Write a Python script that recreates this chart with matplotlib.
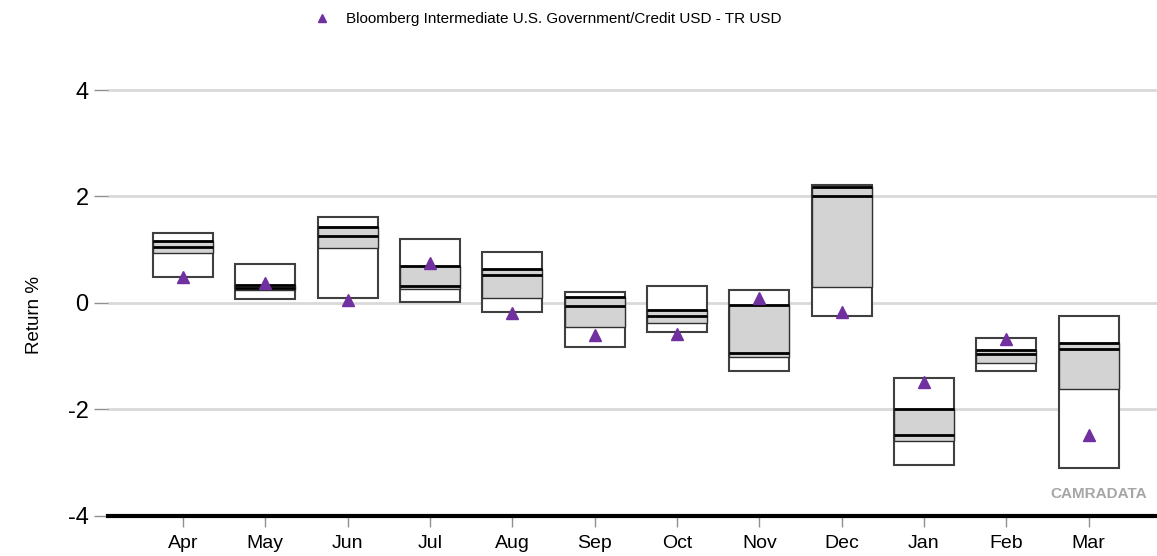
import matplotlib.pyplot as plt
from matplotlib.lines import Line2D
import numpy as np

plt.rcParams['font.family'] = ['Liberation Sans', 'DejaVu Sans']

months = ['Apr', 'May', 'Jun', 'Jul', 'Aug', 'Sep', 'Oct', 'Nov', 'Dec', 'Jan', 'Feb', 'Mar']
p95 = [1.32, 0.74, 1.62, 1.20, 0.96, 0.21, 0.32, 0.24, 2.22, -1.40, -0.65, -0.24]
q3 = [1.17, 0.33, 1.43, 0.70, 0.64, 0.11, -0.14, -0.04, 2.18, -2.00, -0.89, -0.745]
med = [1.05, 0.29, 1.25, 0.325, 0.53, -0.06, -0.25, -0.94, 2.00, -2.47, -0.95, -0.87]
q1 = [0.94, 0.24, 1.03, 0.26, 0.10, -0.46, -0.38, -1.01, 0.30, -2.59, -1.12, -1.61]
p5 = [0.48, 0.08, 0.10, 0.02, -0.16, -0.82, -0.54, -1.27, -0.24, -3.04, -1.28, -3.09]
index_ret = [0.48, 0.38, 0.06, 0.75, -0.19, -0.61, -0.59, 0.09, -0.16, -1.48, -0.68, -2.48]
index_name = 'Bloomberg Intermediate U.S. Government/Credit USD - TR USD'

x = np.arange(len(months))
w = 0.73

fig = plt.figure(figsize=(11.57, 5.56), dpi=100)
ax = fig.add_axes([0.0933, 0.072, 0.9067, 0.814])

# gridlines
for yv in [-2, 0, 2, 4]:
    ax.axhline(yv, color='#d9d9d9', lw=2, zorder=0)

# outer 5th-95th box
ax.bar(x, np.array(p95) - np.array(p5), bottom=p5, width=w, color='white',
       edgecolor='#404040', linewidth=1.5, zorder=2)
# inner quartile box
ax.bar(x, np.array(q3) - np.array(q1), bottom=q1, width=w, color='#d3d3d3',
       edgecolor='#303030', linewidth=1.0, zorder=3)
# upper quartile and median lines
ax.hlines(q3, x - w / 2, x + w / 2, color='black', lw=2, zorder=4)
ax.hlines(med, x - w / 2, x + w / 2, color='black', lw=2, zorder=4)

ax.plot(x, index_ret, linestyle='none', marker='^', color='#7030a0',
        markersize=8, zorder=5)

ax.set_xlim(-0.91, 11.83)
ax.set_ylim(-4, 4.5)
ax.set_yticks([-4, -2, 0, 2, 4])
ax.set_xticks(x)
ax.set_xticklabels(months)
ax.tick_params(axis='both', labelsize=14, colors='#909090', labelcolor='black')
ax.tick_params(axis='y', length=10, width=1, pad=4)
ax.tick_params(axis='x', length=8, width=1, pad=6)
ax.set_yticklabels(['-4', '-2', '0', '2', '4'], fontsize=17)

for s in ['top', 'right', 'left']:
    ax.spines[s].set_visible(False)
ax.spines['bottom'].set_linewidth(3)
ax.spines['bottom'].set_color('black')

ax.set_ylabel('Return %', fontsize=13.5)
ax.yaxis.set_label_coords(-0.062, 0.444)

fig.text(0.991, 0.112, 'CAMRADATA', ha='right', va='center', fontsize=11,
         fontweight='bold', color='#a6a6a6')

handle = Line2D([], [], linestyle='none', marker='^', color='#7030a0', markersize=6)
fig.legend([handle], [index_name], loc='center left', bbox_to_anchor=(0.253, 0.965),
           frameon=False, fontsize=11, handletextpad=0.6)

fig.savefig('out.png', dpi=100)
